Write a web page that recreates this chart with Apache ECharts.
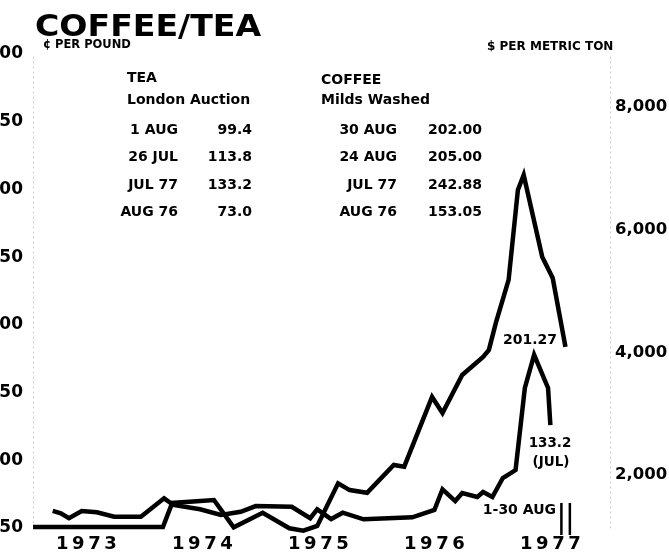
<!DOCTYPE html>
<html><head><meta charset="utf-8">
<script src="https://cdn.jsdelivr.net/npm/echarts@6/dist/echarts.min.js"></script>
<style>html,body{margin:0;padding:0;background:#fff}#c{width:669px;height:552px}</style>
</head><body><div id="c"></div>
<script>
// Coffee (Milds Washed) - x in decimal years, price on left scale (cents per pound)
const coffeeYears = [1973.00, 1974.12, 1974.20, 1974.56, 1974.73, 1974.98, 1975.21, 1975.33, 1975.45, 1975.63, 1975.73, 1975.88, 1976.11, 1976.20, 1976.44, 1976.53, 1976.70, 1976.88, 1976.93, 1976.99, 1977.10, 1977.18, 1977.23, 1977.39, 1977.48, 1977.59];
const coffeePrice = [50.7, 50.7, 68.5, 70.7, 50.5, 61.3, 49.8, 48.0, 51.5, 83.0, 78.0, 76.0, 96.5, 95.3, 146.8, 134.9, 163.0, 176.3, 181.5, 201.4, 233.2, 299.6, 310.7, 250.1, 234.6, 183.7];
// Tea (London Auction)
const teaYears = [1973.17, 1973.24, 1973.31, 1973.42, 1973.55, 1973.70, 1973.93, 1974.13, 1974.21, 1974.44, 1974.62, 1974.79, 1974.92, 1975.23, 1975.39, 1975.45, 1975.57, 1975.67, 1975.85, 1976.27, 1976.46, 1976.53, 1976.64, 1976.70, 1976.83, 1976.88, 1976.96, 1977.05, 1977.16, 1977.24, 1977.32, 1977.44, 1977.46];
const teaPrice = [62.6, 60.9, 57.2, 62.6, 61.6, 58.3, 58.3, 71.9, 67.0, 63.8, 59.6, 62.0, 66.2, 65.7, 57.2, 63.8, 56.6, 61.3, 56.4, 57.9, 63.3, 78.6, 69.9, 75.8, 72.9, 76.6, 72.9, 86.9, 92.8, 153.4, 177.8, 153.4, 126.0];

const leftTicks = [50, 100, 150, 200, 250, 300, 350, 400];
const rightTicks = [2000, 4000, 6000, 8000];
const yearLabels = [1973, 1974, 1975, 1976, 1977];
const teaTable = [['1 AUG', '99.4'], ['26 JUL', '113.8'], ['JUL 77', '133.2'], ['AUG 76', '73.0']];
const coffeeTable = [['30 AUG', '202.00'], ['24 AUG', '205.00'], ['JUL 77', '242.88'], ['AUG 76', '153.05']];
// 1-30 Aug 1977 marker (two vertical bars)
const augRange = [1977.555, 1977.628];
const augBar = [44.8, 68.5];

const FONT = '"DejaVu Sans", "Liberation Sans", sans-serif';
const chart = echarts.init(document.getElementById('c'), null, {renderer: 'canvas'});

const rowY = [130, 157, 185, 212];
const graphics = [];
function txt(text, x, y, size, align, extra) {
  graphics.push(Object.assign({
    type: 'text', x: x, y: y, silent: true,
    style: {text: text, font: 'bold ' + size + 'px ' + FONT, fill: '#000', align: align || 'left', verticalAlign: 'middle'}
  }, extra || {}));
}
txt('COFFEE/TEA', 35, 28, 30, 'left', {scaleX: 1.105});
txt('\u00A2 PER POUND', 43, 45, 11.5);
txt('$ PER METRIC TON', 487, 47, 12);
txt('TEA', 127, 78, 14);
txt('London Auction', 127, 100, 14);
txt('COFFEE', 321, 80, 14);
txt('Milds Washed', 321, 100, 14);
teaTable.forEach((r, i) => { txt(r[0], 178, rowY[i], 14, 'right'); txt(r[1], 252, rowY[i], 14, 'right'); });
coffeeTable.forEach((r, i) => { txt(r[0], 397, rowY[i], 14, 'right'); txt(r[1], 482, rowY[i], 14, 'right'); });
txt('201.27', 530, 340, 14, 'center');
txt('133.2', 550, 443, 13.5, 'center');
txt('(JUL)', 551, 462, 13.5, 'center');
txt('1-30 AUG', 556, 510, 14, 'right');

const lineStyle = {color: '#000', width: 4.5, join: 'miter', cap: 'butt'};
const dotted = {show: true, lineStyle: {color: '#c8c8c8', type: [1, 4], width: 1}};

const series = [
  {
    name: 'Coffee', type: 'line', yAxisIndex: 0, showSymbol: false, clip: false,
    data: coffeeYears.map((x, i) => [x, coffeePrice[i]]), lineStyle: lineStyle
  },
  {
    name: 'Tea', type: 'line', yAxisIndex: 0, showSymbol: false, clip: false,
    data: teaYears.map((x, i) => [x, teaPrice[i]]), lineStyle: lineStyle
  }
];
augRange.forEach(x => series.push({
  type: 'line', yAxisIndex: 0, showSymbol: false, clip: false, silent: true,
  data: [[x, augBar[0]], [x, augBar[1]]],
  lineStyle: {color: '#000', width: 2.5, cap: 'butt'}
}));

chart.setOption({
  animation: false,
  backgroundColor: '#fff',
  grid: {left: 33, right: 59, top: 54, bottom: 24, containLabel: false, outerBoundsMode: 'none'},
  xAxis: {
    type: 'value', min: 1973, max: 1977.974,
    axisLine: {show: false}, axisTick: {show: false}, splitLine: {show: false},
    axisLabel: {
      customValues: yearLabels.map(y => y + 0.46),
      formatter: v => String(Math.floor(v)).split('').join('\u2009'),
      color: '#000', fontFamily: FONT, fontWeight: 'bold', fontSize: 18, margin: 7
    }
  },
  yAxis: [
    {
      type: 'value', min: 50, max: 400, interval: 50, position: 'left',
      axisLine: dotted, axisTick: {show: false}, splitLine: {show: false},
      axisLabel: {customValues: leftTicks, color: '#000', fontFamily: FONT, fontWeight: 'bold', fontSize: 17, margin: 10}
    },
    {
      type: 'value', min: 1136, max: 8864, position: 'right',
      axisLine: dotted, axisTick: {show: false}, splitLine: {show: false},
      axisLabel: {
        customValues: rightTicks,
        formatter: v => v.toLocaleString('en-US'),
        color: '#000', fontFamily: FONT, fontWeight: 'bold', fontSize: 16.5, margin: 5
      }
    }
  ],
  series: series,
  graphic: graphics
});
</script></body></html>
